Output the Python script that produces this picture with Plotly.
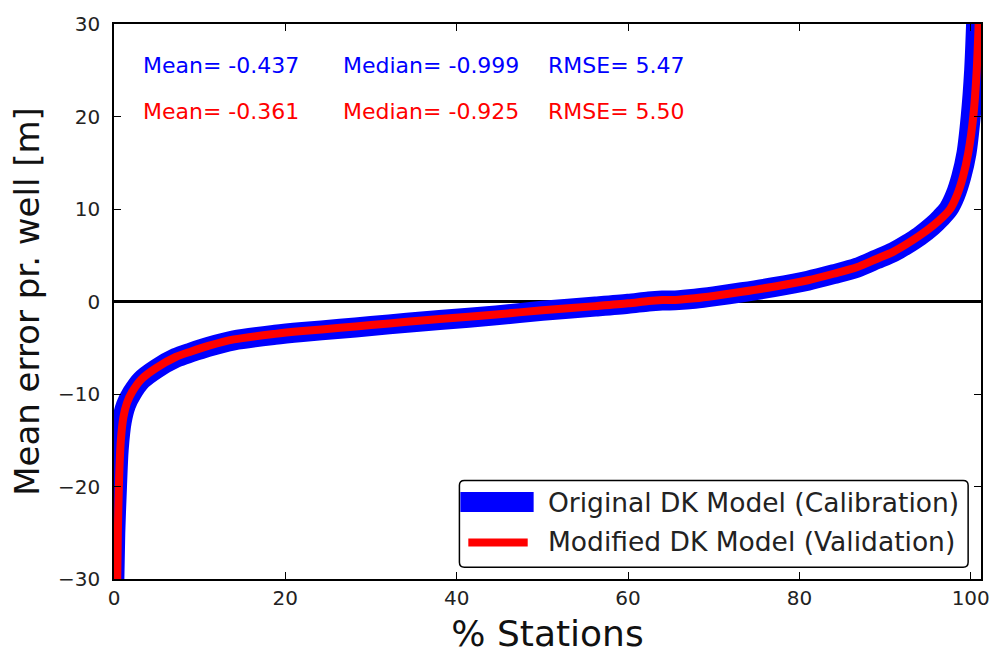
import plotly.graph_objects as go

# Red: Modified DK Model (Validation), sorted mean error per well
red_x = [0.35, 0.45, 0.6, 0.8, 1.1, 1.5, 2.1, 3.2, 4.9, 7.2, 9.0, 11.0, 14.0, 18.8,
         22.0, 26.4, 30.0, 34.2, 38.0, 44.6, 50.0, 56.2, 60.0, 62.4, 64.0, 65.9,
         67.8, 70.0, 73.3, 77.0, 81.0, 84.0, 86.7, 89.0, 91.0, 92.5, 94.0, 95.6,
         96.7, 97.6, 98.4, 99.1, 99.7, 100.3, 100.7, 101.0]
red_y = [-32.0, -25.0, -19.0, -15.0, -12.5, -11.0, -9.8, -8.4, -7.2, -6.0, -5.4,
         -4.8, -4.1, -3.5, -3.2, -2.85, -2.55, -2.2, -1.9, -1.4, -0.95, -0.5, -0.2,
         0.05, 0.15, 0.2, 0.35, 0.6, 1.05, 1.6, 2.3, 3.0, 3.7, 4.6, 5.4, 6.2, 7.1,
         8.2, 9.1, 10.0, 11.5, 13.5, 16.0, 20.0, 25.0, 32.0]

# Blue: Original DK Model (Calibration)
blue_x = [0.0, 0.15, 0.35, 0.55, 0.9, 1.4, 2.1, 3.2, 4.9, 7.2, 9.0, 11.0, 14.0, 18.8,
          22.0, 26.4, 30.0, 34.2, 38.0, 44.6, 50.0, 56.2, 60.0, 62.4, 64.0, 65.9,
          67.8, 70.0, 73.3, 77.0, 81.0, 84.0, 86.7, 89.0, 91.0, 92.5, 94.0, 95.5,
          96.5, 97.4, 98.2, 98.9, 99.5, 100.0, 100.4, 100.7]
blue_y = [-32.0, -25.0, -20.0, -16.0, -13.0, -11.2, -9.9, -8.5, -7.3, -6.1, -5.5,
          -4.9, -4.2, -3.6, -3.3, -2.95, -2.65, -2.3, -2.0, -1.5, -1.0, -0.55, -0.25,
          0.0, 0.1, 0.15, 0.3, 0.55, 1.0, 1.55, 2.25, 2.95, 3.65, 4.55, 5.35, 6.15,
          7.05, 8.15, 9.05, 10.0, 11.5, 13.5, 16.0, 20.0, 25.0, 32.0]

stats_blue = ["Mean= -0.437", "Median= -0.999", "RMSE= 5.47"]
stats_red = ["Mean= -0.361", "Median= -0.925", "RMSE= 5.50"]
stats_x = [3.2, 26.5, 50.4]

legend_names = ["Original DK Model (Calibration)", "Modified DK Model (Validation)"]

FONT = "DejaVu Sans"
BLUE = "#0000ff"
RED = "#ff0000"

# plot-area pixel geometry (for the hand-drawn legend)
L, R, T, B = 114, 990, 18, 581
def px(xp):
    return (xp - L) / (R - L)
def py(yp):
    return (B - yp) / (B - T)

fig = go.Figure()
fig.add_trace(go.Scatter(x=blue_x, y=blue_y, mode="lines",
                         line=dict(color=BLUE, width=20, shape="spline", smoothing=0.8),
                         name=legend_names[0], showlegend=False))
fig.add_trace(go.Scatter(x=red_x, y=red_y, mode="lines",
                         line=dict(color=RED, width=8, shape="spline", smoothing=0.8),
                         name=legend_names[1], showlegend=False))

fig.add_hline(y=0, line=dict(color="black", width=3), layer="below")

for sx, tb, tr in zip(stats_x, stats_blue, stats_red):
    fig.add_annotation(x=sx, y=25.5, text=tb, showarrow=False, xanchor="left",
                       yanchor="middle", font=dict(family=FONT, size=22, color=BLUE))
    fig.add_annotation(x=sx, y=20.5, text=tr, showarrow=False, xanchor="left",
                       yanchor="middle", font=dict(family=FONT, size=22, color=RED))

# legend box (matplotlib style, rounded corners)
bx0, bx1, by0, by1, r = 463, 977, 481, 569, 5
path = (f"M {px(bx0 + r)},{py(by0)} L {px(bx1 - r)},{py(by0)} "
        f"Q {px(bx1)},{py(by0)} {px(bx1)},{py(by0 + r)} "
        f"L {px(bx1)},{py(by1 - r)} Q {px(bx1)},{py(by1)} {px(bx1 - r)},{py(by1)} "
        f"L {px(bx0 + r)},{py(by1)} Q {px(bx0)},{py(by1)} {px(bx0)},{py(by1 - r)} "
        f"L {px(bx0)},{py(by0 + r)} Q {px(bx0)},{py(by0)} {px(bx0 + r)},{py(by0)} Z")
fig.add_shape(type="path", xref="paper", yref="paper", path=path,
              line=dict(color="black", width=1.5), fillcolor="white", layer="above")
fig.add_shape(type="line", xref="paper", yref="paper",
              x0=px(464), x1=px(538), y0=py(503), y1=py(503),
              line=dict(color=BLUE, width=20), layer="above")
fig.add_shape(type="line", xref="paper", yref="paper",
              x0=px(472), x1=px(532), y0=py(544), y1=py(544),
              line=dict(color=RED, width=8), layer="above")
for name, yy in zip(legend_names, [503, 543]):
    fig.add_annotation(xref="paper", yref="paper", x=px(550), y=py(yy), text=name,
                       showarrow=False, xanchor="left", yanchor="middle",
                       font=dict(family=FONT, size=26.5, color="#222"))

axis_common = dict(showline=True, linecolor="black", linewidth=1.5, mirror="ticks",
                   ticks="inside", ticklen=7, tickcolor="black", showgrid=False,
                   zeroline=False, tickfont=dict(family=FONT, size=20, color="#222"))

fig.update_layout(
    width=1002, height=659,
    margin=dict(l=L, r=1002 - R, t=T, b=659 - B),
    paper_bgcolor="white", plot_bgcolor="white",
    font=dict(family=FONT, color="black"),
    showlegend=False,
    xaxis=dict(range=[0, 101.2], tickvals=[0, 20, 40, 60, 80, 100],
               title=dict(text="% Stations", font=dict(family=FONT, size=36, color="#111"),
                          standoff=12),
               **axis_common),
    yaxis=dict(range=[-30, 30], tickvals=[-30, -20, -10, 0, 10, 20, 30],
               ticklabelstandoff=8,
               title=dict(text="Mean error pr. well [m]", font=dict(family=FONT, size=34, color="#111"),
                          standoff=8),
               **axis_common),
)

fig.write_html("out.html")
